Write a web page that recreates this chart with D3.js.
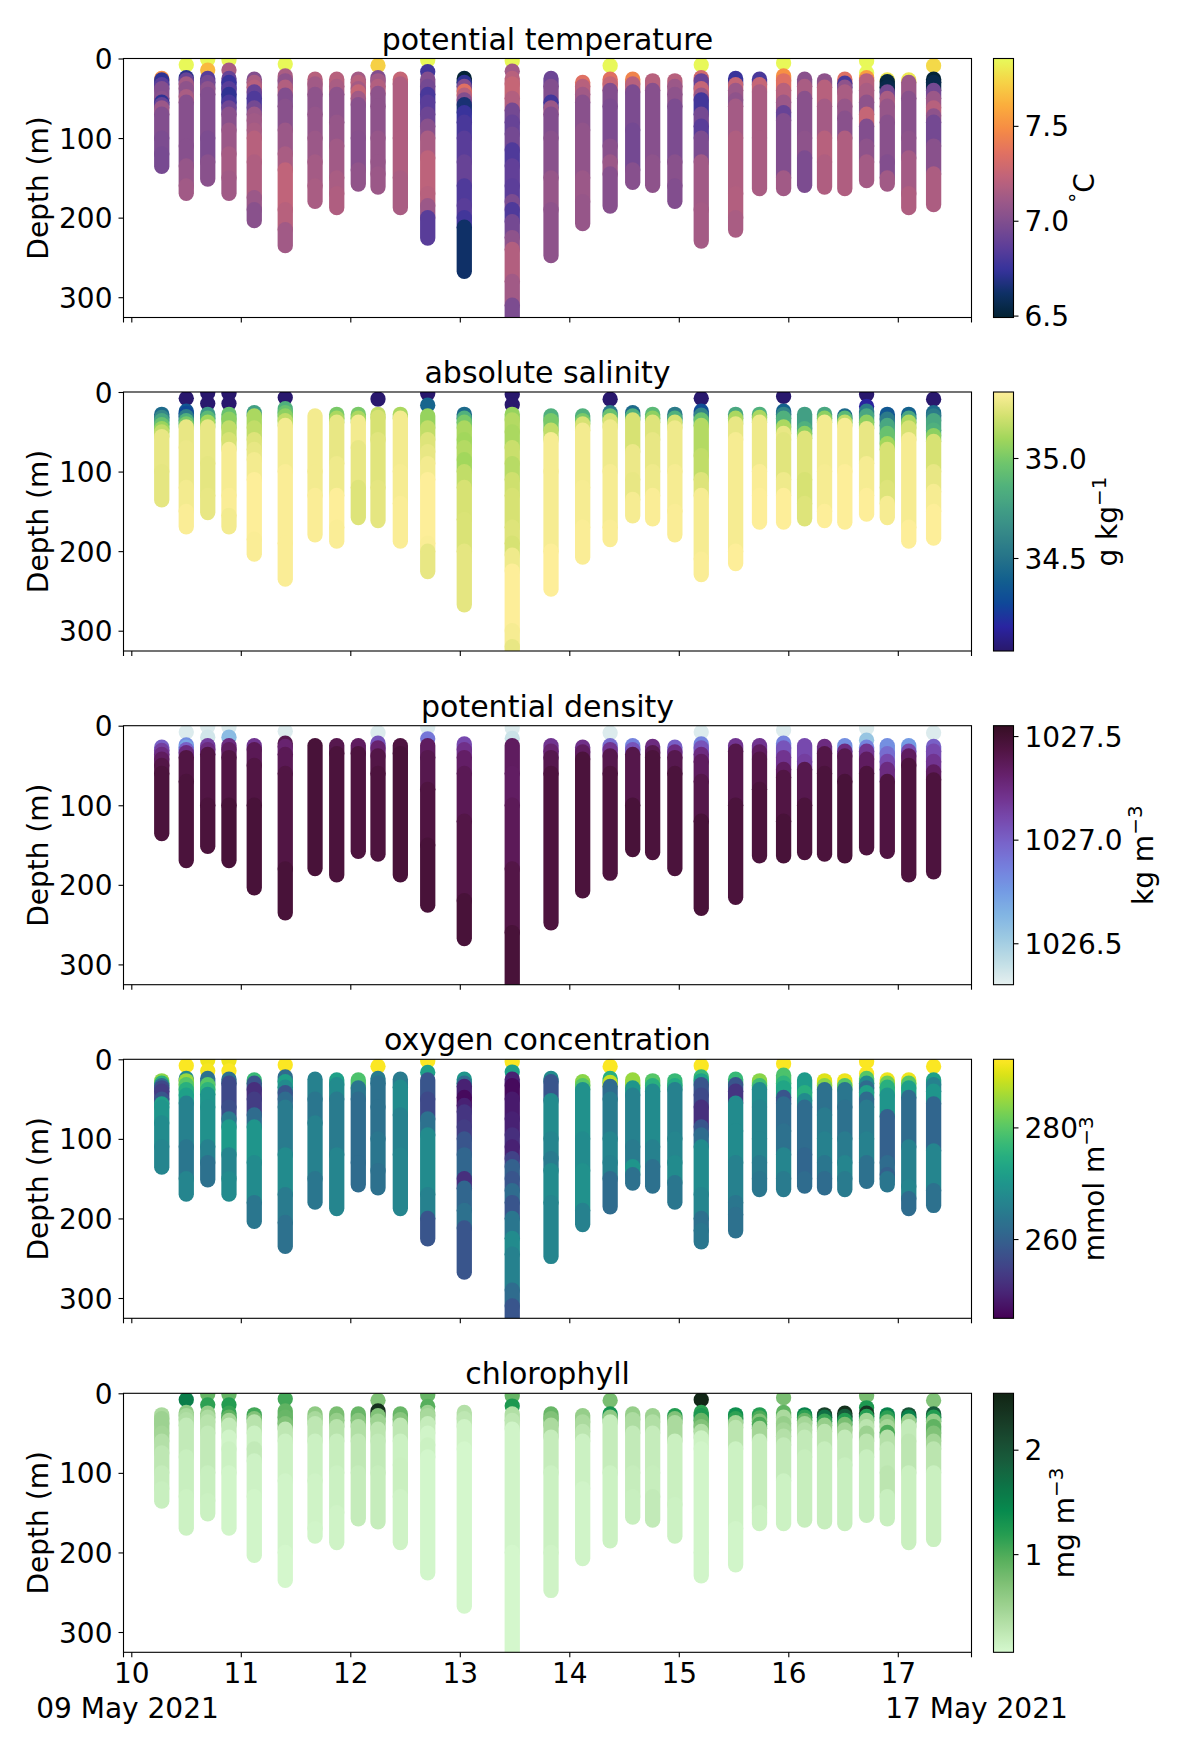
<!DOCTYPE html>
<html><head><meta charset="utf-8">
<script src="https://cdn.jsdelivr.net/npm/d3@7"></script>
<style>html,body{margin:0;background:#fff}text{font-family:"DejaVu Sans";fill:#000}</style></head>
<body><svg id="c" width="1200" height="1750"></svg>
<script>
const castDays=[10.278,10.502,10.698,10.892,11.123,11.406,11.678,11.876,12.073,12.253,12.457,12.707,13.041,13.479,13.833,14.122,14.373,14.579,14.761,14.964,15.205,15.519,15.737,15.957,16.149,16.331,16.516,16.715,16.904,17.100,17.327];
const castBottoms=[135.6,169.5,151.5,169.5,203.8,235.2,179.5,187.5,157.8,161.5,187.5,225.6,267.5,335,247.8,207.6,185.4,155.7,159.4,179.5,229.4,215.6,163.6,163.6,159.4,161.5,163.6,153.5,157.8,187.5,183.7];
// casts with separate near-surface samples: [cast index, depth]
const surfaceSamples=[[1,8],[2,1],[2,14.5],[3,1.5],[3,14.5],[5,7],[9,8.8],[11,2],[11,16.5],[13,3],[13,16],[16,9],[20,8],[23,5.5],[27,3],[27,18.2],[30,9]];
const surfaceTemp=[7.85,7.85,7.65,7.85,7.15,7.85,7.72,7.85,6.78,7.85,7.12,7.85,7.85,7.85,7.85,7.85,7.75];
const surfaceSal=[34.04,34.04,34.04,34.04,34.04,34.04,34.04,34.04,34.42,34.04,34.04,34.04,34.04,34.04,34.04,34.15,34.04];
const surfaceDens=[1026.33,1026.33,1026.36,1026.33,1026.6,1026.33,1026.33,1026.33,1026.9,1026.33,1026.38,1026.33,1026.33,1026.33,1026.33,1026.55,1026.33];
const surfaceOxy=[292,291,291.5,291,292,292,292,292,272,292,272,292,292,292,292,292,292];
const surfaceChl=[1.55,.85,1.15,.85,1.2,1.05,.7,.85,.95,.85,1.25,.75,2.5,.75,.75,1.25,.7];
// per cast: [start depth, value] bands
const temperature=[
[[25,7.5],[27,6.72],[33,6.85],[38,7],[50,7.03],[55,6.72],[58,6.9],[62,7.1],[70,7],[100,6.98],[120,6.96]],
[[24,6.7],[27,6.9],[32,7.13],[38,7.05],[48,7.15],[55,7.02],[110,7.02],[135,7.08],[160,7.12]],
[[25,6.85],[30,6.95],[38,7.05],[45,7],[100,6.98],[130,7.03]],
[[25,6.9],[30,6.75],[38,6.85],[45,6.72],[55,6.8],[62,6.93],[70,7.03],[90,7.1],[120,7.14],[150,7.12]],
[[26,7],[30,7.15],[36,7.2],[42,6.9],[50,6.82],[62,6.95],[70,7.1],[78,7.12],[90,7.15],[100,7.2],[130,7.17],[175,7.1],[190,7.03]],
[[22,7.15],[28,7.05],[36,7.18],[46,7],[60,7.03],[90,7.1],[120,7.15],[140,7.23],[190,7.2],[215,7.12]],
[[26,7.2],[32,7.12],[45,7.05],[70,7.07],[100,7.1],[130,7.13],[160,7.15]],
[[26,7.2],[35,7.15],[45,7.05],[80,7.08],[110,7.12],[150,7.15],[170,7.17]],
[[26,7.13],[30,7.2],[38,7.13],[42,7.25],[50,7.12],[58,7.03],[100,7.02],[140,7.06]],
[[24,7],[28,7.12],[35,7.18],[44,7.05],[60,7.05],[100,7.08],[130,7.08],[145,7.1]],
[[26,7.25],[32,7.17],[100,7.17],[150,7.15]],
[[26,7],[35,6.95],[45,6.8],[55,6.85],[70,6.92],[85,7.03],[100,7.15],[125,7.22],[170,7.2],[185,7.1],[200,6.85]],
[[25,6.5],[30,6.72],[35,7],[41,7.35],[46,7.2],[52,7],[58,6.65],[68,6.75],[80,6.8],[100,6.85],[130,6.9],[160,6.82],[185,6.85],[200,6.78],[212,6.62]],
[[25,7.2],[32,7.25],[50,7.18],[65,6.95],[80,6.9],[95,6.95],[115,6.82],[135,6.88],[160,6.86],[180,6.98],[190,6.82],[205,6.95],[225,7.05],[240,7.18],[280,7.12],[310,6.98]],
[[25,6.92],[35,7],[55,6.78],[62,7.1],[70,7],[100,7.03],[150,7.08],[190,7.05]],
[[30,7.35],[35,7.2],[45,7.12],[55,7.03],[90,7.06],[150,7.1],[180,7.08]],
[[26,7.35],[32,7.25],[40,7],[60,6.98],[110,7.03],[130,7.1],[145,7.02]],
[[26,7.45],[32,7.2],[42,6.98],[90,6.95],[140,7.02]],
[[28,7.2],[40,7.02],[130,7.05]],
[[28,7.2],[35,7.1],[45,7.05],[60,6.98],[130,7.03],[160,7]],
[[24,7.3],[28,6.9],[38,7.25],[46,7.1],[52,6.78],[70,6.95],[85,6.85],[100,6.98],[130,7.12],[190,7.13]],
[[25,6.75],[33,7.25],[40,7.1],[52,7.05],[60,7.13],[100,7.17],[170,7.18],[200,7.15]],
[[26,6.8],[33,7.25],[42,7.15],[100,7.15]],
[[22,7.5],[28,7.35],[40,7.2],[55,7.1],[68,6.9],[78,7],[150,7.12]],
[[26,7.03],[35,7.15],[50,7.03],[100,7.05],[125,6.98]],
[[28,7.05],[36,7.2],[60,7.13],[100,7.2],[130,7.17]],
[[26,7.35],[31,6.8],[36,7.05],[42,7.15],[60,7.08],[75,7.03],[100,7.17]],
[[24,7.55],[28,7.2],[40,7.15],[55,7.05],[70,7.25],[85,7],[110,7.05],[130,7.13]],
[[27,7.8],[29,6.52],[36,6.55],[42,6.95],[50,7.15],[60,7.08],[80,7.03],[130,7],[150,7.12]],
[[27,7.8],[30,7.1],[50,7.03],[100,7.05],[125,7.13],[170,7.17]],
[[26,6.5],[30,6.55],[40,6.95],[50,7.1],[62,7.2],[72,7.05],[80,6.95],[110,7.03],[145,7.16]]];
const salinity=[
[[28,34.45],[32,34.62],[36,34.8],[41,34.95],[46,35.08],[50,35.17],[56,35.27],[100,35.26]],
[[24,34.35],[27,34.28],[31,34.55],[36,34.85],[40,35],[44,35.27],[70,35.28],[120,35.3],[150,35.32]],
[[28,34.7],[33,34.9],[38,35.1],[44,35.27],[90,35.26],[130,35.27]],
[[28,34.95],[34,35.05],[45,35.17],[60,35.22],[72,35.31],[130,35.32],[155,35.3]],
[[26,34.75],[30,35.12],[45,35.17],[60,35.24],[72,35.27],[85,35.3],[110,35.33],[185,35.32]],
[[21,34.85],[26,34.95],[30,35.05],[36,35.17],[42,35.3],[100,35.32],[190,35.32]],
[[30,35.3],[100,35.3],[130,35.32]],
[[28,35],[33,35.12],[38,35.27],[90,35.29],[130,35.33],[170,35.32]],
[[28,35],[33,35.12],[38,35.3],[70,35.27],[120,35.24]],
[[28,35.17],[32,35.22],[60,35.25],[120,35.26]],
[[28,35.12],[33,35.3],[100,35.31],[140,35.32]],
[[30,35.07],[45,35.17],[60,35.24],[75,35.27],[90,35.3],[110,35.33],[190,35.32],[200,35.27]],
[[28,34.45],[33,34.85],[38,35],[45,35.12],[60,35.1],[70,35.14],[85,35.1],[100,35.17],[120,35.22],[160,35.23],[200,35.26]],
[[28,35.07],[35,35.14],[50,35.12],[70,35.19],[90,35.15],[110,35.2],[130,35.22],[170,35.24],[190,35.22],[205,35.29],[225,35.33],[300,35.31],[320,35.27]],
[[30,34.85],[36,35],[48,35.17],[60,35.31],[100,35.31],[200,35.33]],
[[30,34.85],[36,35],[40,35.22],[48,35.3],[120,35.31],[170,35.32]],
[[26,34.55],[30,34.95],[36,35.22],[44,35.29],[100,35.31],[170,35.32]],
[[26,34.45],[30,34.85],[35,35.22],[75,35.28],[110,35.27],[135,35.31]],
[[28,34.9],[33,35.05],[38,35.24],[60,35.27],[100,35.29],[130,35.32]],
[[28,34.55],[33,34.85],[38,35.22],[45,35.29],[100,35.31],[150,35.32]],
[[24,34.3],[29,34.6],[35,34.95],[42,35.14],[80,35.17],[110,35.24],[130,35.31],[210,35.32]],
[[28,34.8],[33,35.12],[40,35.27],[60,35.31],[200,35.33]],
[[28,34.85],[32,35.12],[38,35.29],[100,35.32],[130,35.33]],
[[24,34.4],[28,34.6],[33,34.85],[44,35.12],[52,35.27],[60,35.25],[110,35.29],[130,35.33]],
[[28,34.75],[46,34.85],[52,35.05],[58,35.24],[110,35.22],[140,35.24]],
[[28,34.8],[33,35.05],[38,35.3],[100,35.31],[150,35.33]],
[[30,34.45],[33,34.9],[38,35.17],[42,35.31],[100,35.33]],
[[24,34.55],[30,34.8],[38,35.05],[46,35.27],[90,35.31],[130,35.33]],
[[28,34.35],[34,34.55],[42,34.8],[52,34.95],[65,35.1],[72,35.22],[120,35.24],[140,35.31]],
[[28,34.4],[33,34.8],[38,35.12],[45,35.22],[60,35.31],[170,35.33]],
[[26,34.45],[30,34.55],[36,34.8],[48,34.85],[55,35.05],[62,35.22],[100,35.27],[125,35.31],[150,35.33]]];
const density=[
[[27,1027],[31,1027.15],[36,1027.25],[42,1027.35],[50,1027.42],[60,1027.46]],
[[24,1026.8],[27,1026.7],[30,1027],[34,1027.25],[40,1027.43],[70,1027.46]],
[[25,1027.15],[30,1027.25],[36,1027.43],[100,1027.46]],
[[25,1027.25],[30,1027.35],[40,1027.43],[100,1027.47]],
[[25,1027.2],[30,1027.38],[50,1027.43],[100,1027.47]],
[[22,1027.4],[26,1027.3],[36,1027.38],[60,1027.43],[180,1027.47]],
[[25,1027.47]],
[[25,1027.4],[35,1027.46]],
[[25,1027.35],[35,1027.45]],
[[22,1027.05],[28,1027.3],[38,1027.42],[60,1027.45]],
[[25,1027.44],[35,1027.47]],
[[25,1027.35],[40,1027.4],[80,1027.44],[150,1027.47]],
[[23,1027.1],[30,1027.22],[40,1027.33],[60,1027.38],[120,1027.42],[220,1027.47]],
[[25,1027.35],[60,1027.34],[100,1027.37],[180,1027.42],[260,1027.47]],
[[25,1027.2],[32,1027.3],[40,1027.4],[60,1027.45]],
[[27,1027.22],[33,1027.35],[42,1027.46]],
[[25,1026.95],[30,1027.2],[38,1027.4],[60,1027.45]],
[[25,1026.85],[30,1027.05],[36,1027.41],[100,1027.47]],
[[26,1027.25],[34,1027.4],[40,1027.46]],
[[27,1027],[33,1027.25],[40,1027.4],[60,1027.46]],
[[23,1026.85],[28,1027.05],[36,1027.25],[45,1027.35],[70,1027.41],[120,1027.47]],
[[25,1027.2],[32,1027.41],[100,1027.46]],
[[25,1027.2],[33,1027.35],[42,1027.42],[80,1027.46]],
[[22,1026.85],[28,1027.05],[40,1027.2],[55,1027.35],[65,1027.43],[120,1027.47]],
[[25,1027.1],[45,1027.15],[55,1027.4],[100,1027.46]],
[[26,1027.25],[35,1027.42],[60,1027.46]],
[[25,1026.8],[32,1027.25],[38,1027.4],[70,1027.47]],
[[27,1026.85],[32,1027.2],[42,1027.35],[60,1027.45]],
[[25,1026.8],[35,1026.95],[45,1027.1],[55,1027.25],[70,1027.44]],
[[25,1026.75],[32,1027.1],[38,1027.35],[50,1027.45]],
[[26,1027],[32,1027.1],[45,1027.2],[58,1027.35],[68,1027.45]]];
const oxygen=[
[[27,284],[30,275],[33,262],[36,256],[40,254],[50,258],[56,272],[60,270],[80,268],[110,267]],
[[24,268],[27,285],[32,280],[38,275],[45,272],[55,266],[110,264],[150,267]],
[[24,263],[32,280],[38,276],[44,270],[60,269],[110,266],[130,263]],
[[25,263],[30,256],[60,257],[75,265],[85,271],[120,267],[150,268]],
[[26,277],[30,258],[38,252],[50,254],[70,262],[85,270],[130,268],[180,264]],
[[22,262],[28,272],[35,268],[42,258],[50,262],[60,265],[120,268],[170,265],[205,263]],
[[25,266],[50,264],[80,266],[150,264]],
[[26,272],[32,268],[50,265],[120,267]],
[[26,279],[36,264],[50,262],[130,262]],
[[24,265],[30,263],[60,263],[100,264],[140,263]],
[[25,265],[35,268],[70,266],[120,267]],
[[26,258],[50,256],[75,263],[95,268],[170,266],[200,258]],
[[25,270],[30,262],[34,250],[48,247],[58,250],[66,253],[85,254],[100,258],[120,261],[150,252],[162,261],[190,263],[212,258]],
[[25,250],[33,247],[50,249],[75,250],[95,252],[110,250],[125,255],[135,260],[150,258],[165,262],[180,258],[200,264],[225,268],[245,266],[290,262],[310,258]],
[[24,268],[28,258],[52,268],[100,267],[125,265],[140,268],[180,267]],
[[28,284],[33,280],[38,269],[100,268],[140,269],[190,266]],
[[24,275],[29,288],[34,262],[50,265],[100,267],[130,266],[150,262]],
[[26,285],[33,285],[36,270],[45,266],[110,265],[135,270],[145,263]],
[[27,280],[33,275],[40,268],[110,266],[135,263]],
[[27,277],[33,274],[38,266],[100,267],[130,268],[155,264]],
[[22,277],[27,272],[32,258],[45,256],[60,252],[85,258],[95,262],[110,268],[170,267],[200,263],[215,264]],
[[25,277],[32,258],[40,253],[55,268],[90,268],[130,266],[180,264],[195,263]],
[[27,284],[33,278],[38,268],[60,267],[100,267],[130,265],[150,264]],
[[20,279],[30,276],[36,273],[48,258],[56,262],[90,263],[120,267],[150,265]],
[[26,271],[42,275],[52,268],[60,262],[120,261],[150,262]],
[[27,290],[33,284],[38,263],[70,265],[100,266],[130,264],[150,262]],
[[27,291],[33,280],[38,264],[60,263],[100,265],[130,267],[150,265]],
[[24,280],[30,268],[36,262],[42,272],[50,262],[60,265],[100,266],[130,263]],
[[26,291],[30,282],[35,275],[45,270],[72,260],[130,262],[145,260],[150,264]],
[[26,291],[30,280],[36,272],[48,262],[110,266],[160,267],[175,262]],
[[26,272],[32,266],[40,270],[56,261],[115,267],[165,263]]];
const chlorophyll=[
[[27,.4],[32,.5],[38,.5],[50,.45],[60,.33],[75,.25],[100,.2],[120,.17]],
[[24,.6],[28,.42],[33,.35],[40,.22],[80,.17],[130,.14]],
[[25,.55],[30,.38],[36,.3],[50,.22],[100,.17],[135,.15]],
[[25,1.1],[30,.9],[34,.45],[40,.22],[55,.11],[70,.15],[100,.1]],
[[27,1.05],[32,.7],[36,.3],[50,.15],[70,.22],[85,.13],[130,.1]],
[[22,.9],[30,.85],[38,.7],[45,.25],[60,.15],[110,.11],[200,.08]],
[[26,.6],[32,.42],[38,.25],[60,.15],[110,.12],[170,.1]],
[[26,.75],[34,.55],[42,.3],[60,.18],[100,.15],[150,.12]],
[[26,.85],[34,.65],[42,.35],[60,.24],[100,.2]],
[[22,2.4],[28,.7],[35,.5],[45,.28],[60,.22],[100,.19]],
[[26,.85],[33,.65],[40,.25],[60,.15],[90,.16],[130,.12]],
[[24,.5],[28,.42],[38,.2],[50,.11],[65,.15],[80,.09]],
[[24,.33],[32,.25],[42,.12],[70,.08]],
[[26,.35],[34,.25],[45,.11],[200,.08]],
[[26,.85],[32,.7],[40,.4],[55,.2],[100,.15],[200,.12]],
[[28,.55],[36,.4],[48,.28],[60,.15],[120,.11]],
[[26,1.3],[30,.6],[36,.2],[100,.14]],
[[26,.55],[33,.38],[50,.22],[100,.19],[130,.17]],
[[28,.5],[36,.35],[50,.2],[100,.18],[130,.22]],
[[28,1.2],[32,.7],[37,.4],[60,.16],[140,.14]],
[[24,1.15],[28,1.25],[34,.85],[42,.7],[48,.35],[56,.14],[70,.1],[200,.1]],
[[27,1.35],[32,1.15],[37,.45],[43,.28],[70,.14],[170,.1]],
[[27,1.2],[31,1],[35,.7],[39,1],[44,.45],[60,.19],[150,.14]],
[[24,.9],[30,.4],[38,.55],[46,.45],[54,.33],[65,.22],[110,.14]],
[[27,1.5],[30,1.15],[34,.85],[38,.45],[46,.33],[55,.22],[80,.18]],
[[27,2.2],[30,1.7],[35,1.1],[40,.55],[48,.28],[70,.18]],
[[25,2.4],[29,1.9],[34,1.2],[39,.75],[46,.45],[55,.22],[90,.17]],
[[25,2.3],[29,1.2],[34,.45],[42,.28],[50,.5],[60,.28],[80,.17]],
[[27,1.5],[31,1.15],[36,.65],[42,.45],[49,1],[55,.33],[70,.23],[100,.27],[130,.17]],
[[27,2],[30,1.5],[35,.55],[42,.22],[60,.26],[100,.16]],
[[26,1.9],[30,1.2],[35,.55],[42,.9],[50,.7],[60,.45],[70,.28],[100,.16]]];
const dayTicks=[10,11,12,13,14,15,16,17];
const depthTicks=[0,100,200,300];
const edgeLabels=["09 May 2021","17 May 2021"];

const thermal=[[3,35,51],[13,48,100],[53,50,155],[93,62,153],[126,77,143],[158,89,135],[193,100,121],[225,113,97],[246,139,69],[251,173,60],[246,211,70],[231,250,90]];
const haline=[[41,24,107],[42,35,160],[15,71,153],[18,95,142],[38,116,137],[53,136,136],[65,157,133],[81,178,124],[111,198,107],[160,214,91],[212,225,112],[253,238,153]];
const dense=[[230,240,240],[191,221,229],[156,201,226],[129,180,227],[115,154,228],[117,127,221],[120,100,202],[119,74,175],[113,50,141],[100,31,104],[80,20,66],[54,14,36]];
const algae=[[214,249,207],[186,228,174],[156,209,143],[124,191,115],[85,174,91],[37,157,81],[7,138,78],[13,117,71],[23,95,61],[25,75,49],[23,55,35],[17,36,20]];
const ramp=s=>d3.scaleLinear().domain(s.map((_,i)=>i/(s.length-1))).range(s.map(c=>`rgb(${c})`));

const panels=[
 {title:"potential temperature",bands:temperature,surf:surfaceTemp,cmap:ramp(thermal),vmin:6.49,vmax:7.855,ticks:[6.5,7,7.5],fmt:".1f",unit:["°","C"],uy:1094,unitKind:"deg"},
 {title:"absolute salinity",bands:salinity,surf:surfaceSal,cmap:ramp(haline),vmin:34.035,vmax:35.33,ticks:[34.5,35],fmt:".1f",unit:["g kg","−1"],uy:1117},
 {title:"potential density",bands:density,surf:surfaceDens,cmap:ramp(dense),vmin:1026.3,vmax:1027.55,ticks:[1026.5,1027,1027.5],fmt:".1f",unit:["kg m","−3"],uy:1153},
 {title:"oxygen concentration",bands:oxygen,surf:surfaceOxy,cmap:d3.interpolateViridis,vmin:245.8,vmax:292.2,ticks:[260,280],fmt:"d",unit:["mmol m","−3"],uy:1104},
 {title:"chlorophyll",bands:chlorophyll,surf:surfaceChl,cmap:ramp(algae),vmin:.06,vmax:2.54,ticks:[1,2],fmt:"d",unit:["mg m","−3"],uy:1074}
];
const L=123.5,R=971.5,tops=[58.5,392,725.7,1059.3,1393.3],H=259,FS=28,TFS=30,LW=1.1,TL=5;
const CL=993.5,CW=20;
const dayEdge=[L,R];
const x=d3.scaleLinear().domain([10,17]).range([131.3,897.8]);
const svg=d3.select("#c");
const defs=svg.append("defs");
const line=d3.line().x(d=>x(d[0])).y(d=>d[2]);

panels.forEach((p,k)=>{
 const T=tops[k];
 const y=d3.scaleLinear().domain([0,325.5]).range([T,T+H]);
 const c=d3.scaleLinear().domain([p.vmin,p.vmax]).range([0,1]).clamp(true);
 const g=svg.append("g");
 const cid="clip"+k;
 defs.append("clipPath").attr("id",cid).append("rect").attr("x",L).attr("y",T).attr("width",R-L).attr("height",H);
 const marks=g.append("g").attr("clip-path",`url(#${cid})`).attr("fill","none").attr("stroke-linecap","round").attr("stroke-width",15.3);
 castDays.forEach((day,i)=>{
  const cg=marks.append("g");
  surfaceSamples.forEach((s,j)=>{ if(s[0]!==i) return;
   cg.append("path").attr("d",`M${x(day)},${y(s[1])}L${x(day)},${y(s[1])}`).attr("stroke",p.cmap(c(p.surf[j])));
  });
  const b=p.bands[i];
  b.forEach((e,j)=>{
   const end=j<b.length-1?b[j+1][0]:castBottoms[i];
   cg.append("path").attr("d",line([[day,0,y(e[0])],[day,0,y(end)]])).attr("stroke",p.cmap(c(e[1])));
  });
 });
 g.append("rect").attr("x",L).attr("y",T).attr("width",R-L).attr("height",H).attr("fill","none").attr("stroke","#000").attr("stroke-width",LW);
 const ya=g.append("g").attr("transform",`translate(${L},0)`).call(d3.axisLeft(y).tickValues(depthTicks).tickSize(TL).tickPadding(6).tickFormat(d3.format("d")));
 ya.select(".domain").remove();
 ya.selectAll("text").attr("font-size",FS).attr("dy",".36em");
 ya.selectAll("line").attr("stroke-width",LW);
 const xa=g.append("g").attr("transform",`translate(0,${T+H})`);
 const xt=d3.axisBottom(x).tickValues(dayTicks).tickSize(TL).tickPadding(6).tickFormat(k===4?d3.format("d"):"");
 xa.call(xt); xa.select(".domain").remove();
 xa.selectAll("text").attr("font-size",FS);
 xa.selectAll("line").attr("stroke-width",LW);
 dayEdge.forEach((px,j)=>{
  xa.append("line").attr("x1",px).attr("x2",px).attr("y1",0).attr("y2",TL).attr("stroke","#000").attr("stroke-width",LW);
  if(k===4) xa.append("text").attr("x",px+(j?5:4)).attr("y",66).attr("text-anchor","middle").attr("font-size",FS).text(edgeLabels[j]);
 });
 g.append("text").attr("x",(L+R)/2).attr("y",T-9).attr("text-anchor","middle").attr("font-size",TFS).text(p.title);
 g.append("text").attr("transform",`translate(48,${T+H/2}) rotate(-90)`).attr("text-anchor","middle").attr("font-size",FS).text("Depth (m)");
 const gid="grad"+k, gr=defs.append("linearGradient").attr("id",gid).attr("x1",0).attr("x2",0).attr("y1",1).attr("y2",0);
 d3.range(0,1.0001,1/64).forEach(t=>gr.append("stop").attr("offset",t).attr("stop-color",p.cmap(t)));
 const cy=d3.scaleLinear().domain([p.vmin,p.vmax]).range([T+H,T]);
 g.append("rect").attr("x",CL).attr("y",T).attr("width",CW).attr("height",H).attr("fill",`url(#${gid})`).attr("stroke","#000").attr("stroke-width",LW);
 const ca=g.append("g").attr("transform",`translate(${CL+CW},0)`).call(d3.axisRight(cy).tickValues(p.ticks).tickSize(TL).tickPadding(6).tickFormat(d3.format(p.fmt)));
 ca.select(".domain").remove();
 ca.selectAll("text").attr("font-size",FS).attr("dy",".36em");
 ca.selectAll("line").attr("stroke-width",LW);
 const u=g.append("text").attr("transform",`translate(${p.uy},${T+H/2}) rotate(-90)`).attr("text-anchor","middle").attr("font-size",FS);
 if(p.unitKind==="deg"){
  u.append("tspan").attr("font-size",20).attr("dy",-10).text(p.unit[0]);
  u.append("tspan").attr("dy",10).text(p.unit[1]);
 } else {
  u.append("tspan").text(p.unit[0]);
  u.append("tspan").attr("font-size",20).attr("dy",-11).text(p.unit[1]);
 }
});
</script></body></html>
